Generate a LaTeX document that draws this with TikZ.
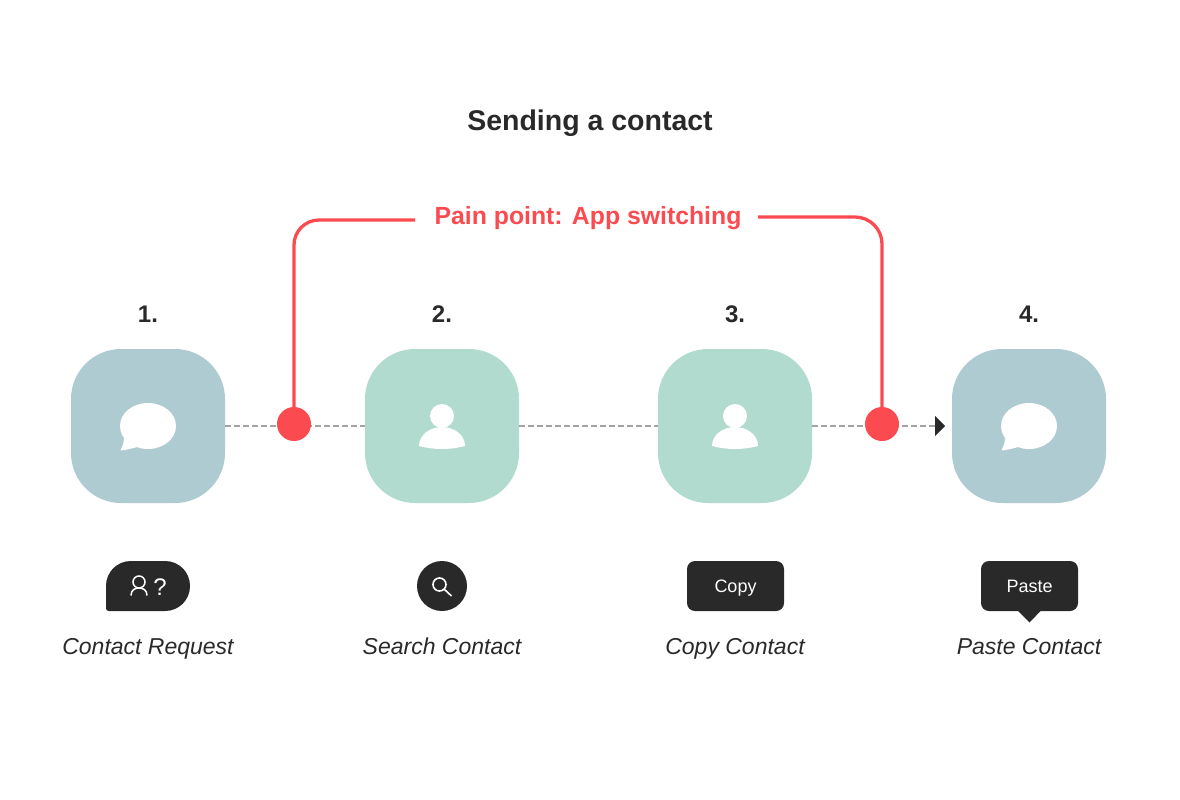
\documentclass[tikz,border=0pt]{standalone}
\usepackage{fontspec}
\setmainfont{Liberation Sans}
\usetikzlibrary{arrows.meta}
\definecolor{stepblue}{HTML}{AFCBD2}
\definecolor{stepgreen}{HTML}{B2DBCF}
\definecolor{painred}{HTML}{FB4B50}
\definecolor{inkdark}{HTML}{292929}
\definecolor{dashgray}{HTML}{A3A3A3}
\tikzset{
	stepbox/.style={rectangle, rounded corners=50, minimum size=154, inner sep=0, fill=#1},
	toolbox/.style={rectangle, rounded corners=8, minimum width=97, minimum height=50, inner sep=0, text height=13, text depth=1, fill=inkdark, text=white, font=\fontsize{18}{20}\selectfont},
	painmark/.style={circle, minimum size=34, inner sep=0, fill=painred},
	flowline/.style={draw=dashgray, line width=1.8, dash pattern=on 6 off 3},
	painline/.style={draw=painred, line width=3.3, rounded corners=#1},
	numlabel/.style={anchor=base, inner sep=0, text=inkdark, font=\fontsize{24}{28}\selectfont\bfseries},
	caption/.style={anchor=base, inner sep=0, text=inkdark, font=\fontsize{23}{26}\selectfont\itshape}
}
\def\bubbleicon(#1)% speech bubble, centred on the step
{ \begin{scope}[shift={(#1)}]
	\fill[white] (0,0) ellipse (28 and 23);
	\fill[white] (-24,12) .. controls (-24,17) and (-26,21) .. (-27.5,24.5) .. controls (-22,24) and (-16,22.5) .. (-11,21) -- cycle;
\end{scope} }
\def\personicon(#1)% head and shoulders, centred on the step
{ \begin{scope}[shift={(#1)}]
	\fill[white] (0,-10) circle (12);
	\fill[white] (-23,20) .. controls (-23,8) and (-11,1) .. (0,1) .. controls (11,1) and (23,8) .. (23,20) .. controls (8,24) and (-8,24) .. (-23,20) -- cycle;
\end{scope} }
\begin{document}
\begin{tikzpicture}[x=1pt,y=-1pt]
	\useasboundingbox (0,0) rectangle (1180,800);
	%title
	\node[anchor=base, inner sep=0, text=inkdark, font=\fontsize{28.5}{32}\selectfont\bfseries] (title) at (590,130) {Sending a contact};
	
	%steps
	\node[stepbox=stepblue]  (step1) at (148,426) {};
	\node[stepbox=stepgreen] (step2) at (442,426) {};
	\node[stepbox=stepgreen] (step3) at (735,426) {};
	\node[stepbox=stepblue]  (step4) at (1029,426) {};
	\bubbleicon(148,426)
	\personicon(442,426)
	\personicon(735,426)
	\bubbleicon(1029,426)
	\foreach \n/\x in {1/148,2/442,3/735,4/1029}
		\node[numlabel] (num\n) at (\x,322) {\n.};
	
	%dashed flow
	\coordinate (flowend) at (945,426);
	\draw[flowline] (step1) -- (step2);
	\draw[flowline] (step2) -- (step3);
	\draw[flowline, -{Triangle[length=10,width=20,fill=inkdark,color=inkdark]}] (step3) -- (flowend);
	
	%pain point
	\node[anchor=base, inner sep=0, text=painred, font=\fontsize{24.8}{28}\selectfont\bfseries] (pain) at (588,224) {Pain point: App switching};
	\node[painmark] (mark1) at (294,424) {};
	\node[painmark] (mark2) at (882,424) {};
	\coordinate (painleft) at (415,220);
	\coordinate (painright) at (758,217);
	\draw[painline=25] (mark1) |- (painleft);
	\draw[painline=27] (mark2) |- (painright);
	
	%tools
	\fill[inkdark] (106,586) .. controls (106,572) and (117,561) .. (131,561) -- (165,561) .. controls (179,561) and (190,572) .. (190,586) .. controls (190,600) and (179,611) .. (165,611) -- (109,611) .. controls (107,611) and (106,610) .. (106,608) -- cycle;
	\node[inner sep=0, text=white, font=\fontsize{24}{28}\selectfont] (askmark) at (160,587) {?};
	\draw[white, line width=1.5] (139,582) circle (6);
	\draw[white, line width=1.5] (131,595.5) .. controls (131,590) and (135,588) .. (139,588) .. controls (143,588) and (147,590) .. (147,595.5);
	\node[circle, minimum size=50, inner sep=0, fill=inkdark] (searchtool) at (442,586) {};
	\draw[white, line width=1.6] (439.5,584.5) circle (6.5);
	\draw[white, line width=1.6] (444,589) -- (451.5,596);
	\node[toolbox] (copytool) at (735.5,586) {Copy};
	\fill[inkdark] (1017,610) -- (1029.5,622.5) -- (1041.5,610) -- cycle;
	\node[toolbox] (pastetool) at (1029.5,586) {Paste};
	
	%captions
	\node[caption] (cap1) at (148,654) {Contact Request};
	\node[caption] (cap2) at (442,654) {Search Contact};
	\node[caption] (cap3) at (735,654) {Copy Contact};
	\node[caption] (cap4) at (1029,654) {Paste Contact};
\end{tikzpicture}
\end{document}
